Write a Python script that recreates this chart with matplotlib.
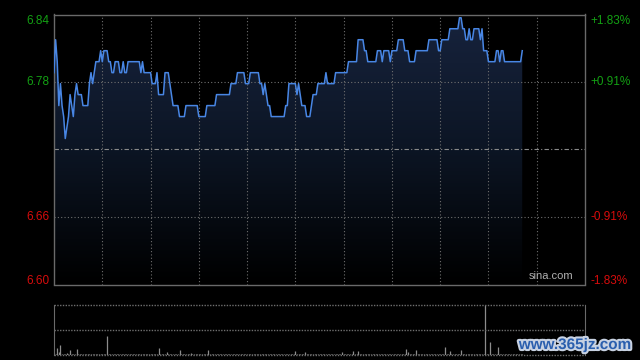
import numpy as np
import matplotlib
matplotlib.use("Agg")
import matplotlib.pyplot as plt
import matplotlib.patheffects as pe
from matplotlib.colors import LinearSegmentedColormap

# intraday data, one value per minute (HK session, 330 minutes in total)
prev_close = 6.72
pct_levels = [1.83, 0.91, -0.91, -1.83]
price_labels = ["6.84", "6.78", "6.66", "6.60"]
pct_labels = ["+1.83%", "+0.91%", "-0.91%", "-1.83%"]

prices = [
    6.79, 6.82, 6.80, 6.76, 6.78, 6.76, 6.75, 6.73, 6.74, 6.75,
    6.77, 6.76, 6.75, 6.77, 6.78, 6.77, 6.77, 6.77, 6.76, 6.76,
    6.76, 6.76, 6.78, 6.79, 6.78, 6.79, 6.80, 6.80, 6.80, 6.81,
    6.80, 6.81, 6.81, 6.81, 6.80, 6.80, 6.79, 6.79, 6.80, 6.80,
    6.80, 6.79, 6.79, 6.80, 6.79, 6.79, 6.80, 6.80, 6.80, 6.80,
    6.80, 6.80, 6.80, 6.80, 6.79, 6.80, 6.79, 6.79, 6.79, 6.79,
    6.79, 6.78, 6.78, 6.78, 6.79, 6.77, 6.77, 6.77, 6.77, 6.79,
    6.79, 6.79, 6.78, 6.77, 6.76, 6.76, 6.76, 6.76, 6.75, 6.75,
    6.75, 6.75, 6.76, 6.76, 6.76, 6.76, 6.76, 6.76, 6.76, 6.76,
    6.75, 6.75, 6.75, 6.75, 6.75, 6.76, 6.76, 6.76, 6.76, 6.76,
    6.76, 6.77, 6.77, 6.77, 6.77, 6.77, 6.77, 6.77, 6.77, 6.77,
    6.78, 6.78, 6.78, 6.78, 6.79, 6.79, 6.79, 6.79, 6.79, 6.78,
    6.78, 6.78, 6.79, 6.79, 6.79, 6.79, 6.79, 6.79, 6.78, 6.78,
    6.77, 6.78, 6.77, 6.76, 6.76, 6.75, 6.75, 6.75, 6.75, 6.75,
    6.75, 6.75, 6.75, 6.75, 6.76, 6.76, 6.78, 6.78, 6.78, 6.78,
    6.78, 6.77, 6.78, 6.77, 6.76, 6.76, 6.76, 6.75, 6.75, 6.75,
    6.76, 6.77, 6.77, 6.77, 6.78, 6.78, 6.78, 6.78, 6.78, 6.79,
    6.78, 6.78, 6.78, 6.78, 6.78, 6.79, 6.79, 6.79, 6.79, 6.79,
    6.79, 6.79, 6.79, 6.80, 6.80, 6.80, 6.80, 6.80, 6.80, 6.82,
    6.82, 6.82, 6.82, 6.81, 6.81, 6.80, 6.80, 6.80, 6.80, 6.80,
    6.80, 6.81, 6.81, 6.81, 6.80, 6.81, 6.81, 6.81, 6.81, 6.80,
    6.81, 6.81, 6.81, 6.81, 6.82, 6.82, 6.82, 6.82, 6.81, 6.81,
    6.81, 6.80, 6.80, 6.80, 6.80, 6.81, 6.81, 6.81, 6.81, 6.81,
    6.81, 6.81, 6.81, 6.82, 6.82, 6.82, 6.82, 6.82, 6.82, 6.81,
    6.81, 6.82, 6.82, 6.82, 6.82, 6.82, 6.83, 6.83, 6.83, 6.83,
    6.83, 6.83, 6.84, 6.84, 6.83, 6.83, 6.82, 6.82, 6.83, 6.82,
    6.82, 6.83, 6.83, 6.83, 6.83, 6.82, 6.83, 6.81, 6.81, 6.81,
    6.80, 6.80, 6.80, 6.80, 6.80, 6.81, 6.81, 6.80, 6.81, 6.81,
    6.80, 6.80, 6.80, 6.80, 6.80, 6.80, 6.80, 6.80, 6.80, 6.80,
    6.80, 6.81,
]

volumes = [
    2, 1, 7, 3, 10, 1, 1, 1, 2, 1,
    5, 1, 1, 1, 6, 1, 1, 1, 1, 1,
    1, 1, 1, 1, 1, 1, 1, 1, 1, 1,
    1, 1, 1, 19, 1, 1, 1, 1, 1, 1,
    1, 1, 1, 1, 1, 1, 1, 1, 1, 1,
    1, 1, 1, 1, 1, 1, 1, 1, 1, 1,
    1, 1, 1, 1, 1, 7, 1, 1, 1, 1,
    3, 1, 1, 1, 1, 1, 1, 1, 5, 1,
    1, 1, 1, 1, 1, 2, 1, 1, 1, 1,
    1, 1, 1, 1, 1, 1, 5, 1, 1, 1,
    1, 1, 1, 1, 1, 1, 1, 1, 1, 1,
    1, 1, 1, 1, 1, 1, 1, 1, 1, 1,
    1, 1, 1, 1, 1, 1, 1, 1, 1, 1,
    1, 1, 1, 1, 1, 1, 1, 1, 1, 1,
    1, 1, 1, 1, 1, 1, 1, 1, 1, 1,
    4, 1, 1, 1, 1, 1, 3, 1, 1, 1,
    1, 1, 1, 1, 1, 1, 1, 1, 1, 1,
    1, 1, 1, 1, 1, 1, 1, 1, 1, 3,
    1, 1, 1, 1, 1, 1, 4, 1, 1, 4,
    1, 1, 1, 1, 1, 1, 1, 1, 1, 1,
    1, 1, 1, 1, 1, 1, 1, 1, 1, 1,
    1, 1, 1, 1, 1, 1, 1, 1, 1, 6,
    3, 1, 1, 1, 1, 5, 1, 1, 1, 1,
    1, 1, 1, 1, 1, 1, 1, 1, 1, 1,
    1, 1, 1, 8, 1, 1, 4, 1, 1, 1,
    1, 1, 1, 5, 1, 1, 1, 1, 1, 1,
    1, 1, 1, 1, 1, 1, 1, 1, 50, 1,
    1, 13, 1, 1, 1, 1, 8, 1, 1, 1,
    1, 1, 1, 1, 1, 1, 1, 1, 1, 1,
    1, 1,
]

session_minutes = 330
grid_step = 30

GRID = "#6f6f6f"
BORDER = "#6a6a6a"
LINE = "#4886e4"
UP = "#13a013"
DOWN = "#d80c0c"


def draw_price_panel(ax, minutes, price):
    lo = prev_close * (1 + pct_levels[-1] / 100)
    hi = prev_close * (1 + pct_levels[0] / 100)
    ax.set_xlim(0, session_minutes)
    ax.set_ylim(lo, hi)

    # gradient fill under the price line
    poly = ax.fill_between(minutes, price, lo, color="none", lw=0)
    cmap = LinearSegmentedColormap.from_list("fade", ["#000000", "#0c1524", "#17233d"])
    grad = np.linspace(0, 1, 256).reshape(-1, 1)
    img = ax.imshow(grad, cmap=cmap, aspect="auto", origin="lower",
                    extent=(0, session_minutes, lo, hi), zorder=1)
    img.set_clip_path(poly.get_paths()[0], transform=ax.transData)

    # grid
    for m in range(grid_step, session_minutes, grid_step):
        ax.axvline(m, color=GRID, lw=0.8, ls=(0, (1, 2)), zorder=2)
    for p in pct_levels[1:3]:
        ax.axhline(prev_close * (1 + p / 100), color=GRID, lw=0.8,
                   ls=(0, (1, 2)), zorder=2)
    ax.axhline(prev_close, color="#8a8a8a", lw=0.8, ls=(0, (4, 2, 1, 2)), zorder=2)

    ax.plot(minutes, price, color=LINE, lw=1.1, zorder=3)

    # labels on both sides
    for i, p in enumerate(pct_levels):
        y = prev_close * (1 + p / 100)
        col = UP if p > 0 else DOWN
        va = "top" if i == 0 else ("bottom" if i == len(pct_levels) - 1 else "center")
        dy = -0.5 if i == 0 else (-1.5 if i == len(pct_levels) - 1 else 0)
        ax.annotate(price_labels[i], (0, y), xycoords=("axes fraction", "data"),
                    xytext=(-3, dy), textcoords="offset points",
                    ha="right", va=va, color=col, fontsize=8.5)
        ax.annotate(pct_labels[i], (1, y), xycoords=("axes fraction", "data"),
                    xytext=(4, dy), textcoords="offset points",
                    ha="left", va=va, color=col, fontsize=8.5)

    ax.text(0.979, 0.012, "sina.com", transform=ax.transAxes, ha="right",
            va="bottom", color="#b0b0b0", fontsize=8)

    ax.set_xticks([])
    ax.set_yticks([])
    for s in ax.spines.values():
        s.set_color(BORDER)
        s.set_linewidth(1)


def draw_volume_panel(ax, minutes, vol):
    ax.set_xlim(0, session_minutes)
    top = max(vol)
    ax.set_ylim(0, top)
    ax.vlines(minutes, 0, vol, color="#8c8c8c", lw=0.9)
    for y in (0, top / 2, top):
        ax.axhline(y, color=GRID, lw=1.0, ls=(0, (1, 1)), clip_on=False)
    ax.set_xticks([])
    ax.set_yticks([])
    ax.spines["top"].set_visible(False)
    ax.spines["bottom"].set_visible(False)
    for s in ("left", "right"):
        ax.spines[s].set_color(BORDER)


if __name__ == "__main__":
    plt.rcParams["font.family"] = ["Liberation Sans", "DejaVu Sans"]
    minutes = np.arange(len(prices))

    fig = plt.figure(figsize=(6.4, 3.6), dpi=100, facecolor="black")
    ax_p = fig.add_axes([54 / 640, 1 - 284.5 / 360, 531 / 640, 270 / 360], facecolor="black")
    ax_v = fig.add_axes([54 / 640, 1 - 355 / 360, 531 / 640, 50.5 / 360], facecolor="black")

    draw_price_panel(ax_p, minutes, prices)
    draw_volume_panel(ax_v, minutes, volumes)

    fig.text(575 / 640, 1 - 345 / 360, "www.365jz.com", ha="center", va="center",
             color="#2b5fae", fontsize=11, fontweight="bold",
             path_effects=[pe.withStroke(linewidth=3, foreground="#c8d2e2")])

    fig.savefig("out.png", dpi=100, facecolor="black")
